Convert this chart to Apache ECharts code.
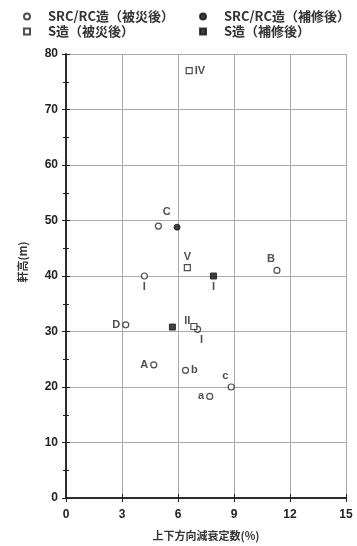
<!DOCTYPE html>
<html><head><meta charset="utf-8">
<script src="https://cdn.jsdelivr.net/npm/echarts@6/dist/echarts.min.js"></script>
<style>html,body{margin:0;padding:0;background:#fff}#c{width:357px;height:546px}</style>
</head><body><div id="c"></div>
<script>
var seriesNames = ['SRC/RC造（被災後）', 'SRC/RC造（補修後）', 'S造（被災後）', 'S造（補修後）'];
var xTicks = [0, 3, 6, 9, 12, 15];
var yTicks = [0, 10, 20, 30, 40, 50, 60, 70, 80];
// [damping %, height m, label]
var srcDamaged = [[4.95, 49, 'C'], [4.2, 40, 'I'], [11.3, 41, 'B'], [3.2, 31.2, 'D'], [7.05, 30.4, 'I'], [4.7, 24, 'A'], [6.4, 23, 'b'], [8.85, 20, 'c'], [7.7, 18.3, 'a']];
var srcRepaired = [[5.95, 48.8, '']];
var sDamaged = [[6.6, 77, 'IV'], [6.5, 41.5, 'V'], [6.85, 30.9, 'II']];
var sRepaired = [[7.9, 40, 'I'], [5.7, 30.8, '']];
var srcDamagedLabelPos = ['insideBottomLeft', 'bottom', 'top', 'left', 'bottom', 'left', 'right', 'top', 'left'];
var sDamagedLabelPos = ['right', 'top', 'left', ''];
var sRepairedLabelPos = ['bottom', ''];

var font = 'Liberation Sans, Arial, sans-serif';
function mk(arr, pos, offsets) {
  return arr.map(function (d, i) {
    var o = { value: [d[0], d[1]] };
    if (d[2]) {
      o.label = { show: true, formatter: d[2], position: pos[i] || 'right', distance: 2 };
      if (offsets && offsets[i]) o.label.offset = offsets[i];
    }
    return o;
  });
}
var srcOff = [[6, -10], null, [-6, 0], null, [4, 0], null, null, [-6, 0], null];
var sOff = [null, null, [2, -6]];
var lbl = { color: '#222', fontFamily: font, fontWeight: 'bold', fontSize: 11 };
var legText = { fontSize: 13, color: '#333', fontFamily: 'Noto Sans CJK JP', fontWeight: 'bold', padding: [0, 0, 0, 13] };
var chart = echarts.init(document.getElementById('c'));
chart.setOption({
  animation: false,
  backgroundColor: '#fff',
  legend: [
    { left: 18, top: 5, orient: 'vertical', itemWidth: 6, itemHeight: 6, itemGap: 2,
      data: [seriesNames[0], seriesNames[2]], textStyle: legText },
    { left: 194, top: 5, orient: 'vertical', itemWidth: 6, itemHeight: 6, itemGap: 2,
      data: [seriesNames[1], seriesNames[3]], textStyle: legText }
  ],
  grid: { left: 66, right: 11, top: 54, bottom: 46 },
  xAxis: [{
    type: 'value', min: xTicks[0], max: xTicks[xTicks.length - 1], interval: 3,
    name: '上下方向減衰定数(%)', nameLocation: 'middle', nameGap: 32,
    nameTextStyle: { fontFamily: 'Noto Sans CJK JP', fontSize: 11, color: '#333', fontWeight: 'bold' },
    axisLine: { lineStyle: { color: '#222', width: 1.5 } },
    axisTick: { inside: true, length: 4, lineStyle: { color: '#222' } },
    axisLabel: { color: '#222', fontFamily: font, fontSize: 12, fontWeight: 'bold', margin: 11 },
    splitLine: { lineStyle: { color: '#aaa', width: 1 } }
  }, {
    type: 'value', position: 'top', min: 0, max: 15, interval: 3,
    axisLine: { show: true, lineStyle: { color: '#222', width: 1.5 } },
    axisTick: { inside: true, length: 4, lineStyle: { color: '#222' } },
    axisLabel: { show: false }, splitLine: { show: false }
  }],
  yAxis: [{
    type: 'value', min: yTicks[0], max: yTicks[yTicks.length - 1], interval: 10,
    name: '軒高(m)', nameLocation: 'middle', nameGap: 38, nameRotate: 90,
    nameTextStyle: { fontFamily: 'Noto Sans CJK JP', fontSize: 11, color: '#333', fontWeight: 'bold', padding: [0, 0, 0, 28] },
    axisLine: { show: true, lineStyle: { color: '#222', width: 1.5 } },
    axisTick: { inside: true, length: 4, lineStyle: { color: '#222' } },
    minorTick: { show: true, splitNumber: 2, length: 3, lineStyle: { color: '#222' } },
    axisLabel: { color: '#222', fontFamily: font, fontSize: 12, fontWeight: 'bold', margin: 8 },
    splitLine: { lineStyle: { color: '#aaa', width: 1 } }
  }, {
    type: 'value', position: 'right', min: 0, max: 80, interval: 10,
    axisLine: { show: true, lineStyle: { color: '#222', width: 1.5 } },
    axisTick: { inside: true, length: 4, lineStyle: { color: '#222' } },
    minorTick: { show: true, splitNumber: 2, length: 3, lineStyle: { color: '#222' } },
    axisLabel: { show: false }, splitLine: { show: false }
  }],
  series: [
    { name: seriesNames[0], type: 'scatter', symbol: 'circle', symbolSize: 6,
      itemStyle: { color: '#fff', borderColor: '#222', borderWidth: 1.2 },
      label: lbl, data: mk(srcDamaged, srcDamagedLabelPos, srcOff) },
    { name: seriesNames[1], type: 'scatter', symbol: 'circle', symbolSize: 6,
      itemStyle: { color: '#111', borderColor: '#111', borderWidth: 1 },
      label: lbl, data: mk(srcRepaired, []) },
    { name: seriesNames[2], type: 'scatter', symbol: 'rect', symbolSize: 6,
      itemStyle: { color: '#fff', borderColor: '#222', borderWidth: 1.2 },
      label: lbl, data: mk(sDamaged, sDamagedLabelPos, sOff) },
    { name: seriesNames[3], type: 'scatter', symbol: 'rect', symbolSize: 6,
      itemStyle: { color: '#111', borderColor: '#111', borderWidth: 1 },
      label: lbl, data: mk(sRepaired, sRepairedLabelPos) }
  ]
});
</script></body></html>
